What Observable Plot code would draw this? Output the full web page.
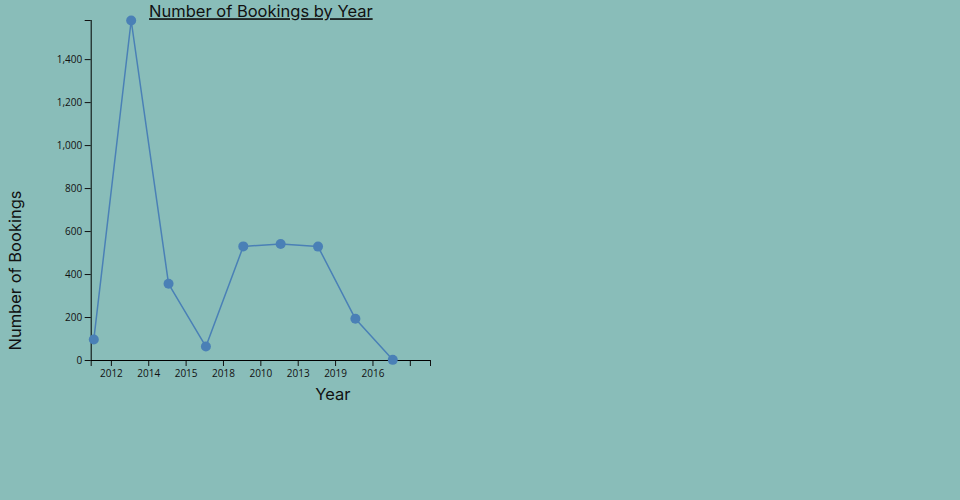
<!DOCTYPE html>
<html>
<head>
<meta charset="utf-8">
<script src="https://cdn.jsdelivr.net/npm/d3@7"></script>
<script src="https://cdn.jsdelivr.net/npm/@observablehq/plot@0.6"></script>
<style>
  html, body { margin: 0; padding: 0; background: #89bdb9; }
</style>
</head>
<body>
<div id="chart"></div>
<script>
// ---- data ----
const tickLabels = ["2012", "2014", "2015", "2018", "2010", "2013", "2019", "2016", ""];
const bookings = [98, 1582, 357, 65, 531, 542, 530, 194, 3];
const yTicks = [0, 200, 400, 600, 800, 1000, 1200, 1400];
const titleText = "Number of Bookings by Year";
const yLabelText = "Number of Bookings";
const xLabelText = "Year";

// ---- build table ----
const data = bookings.map((v, i) => ({ i, v }));
const yMax = d3.max(bookings);
const xDomain = [-0.07, 9.01];
const tickOffset = 0.47;
const xTicks = tickLabels.map((_, k) => k + tickOffset);
const fmt = d3.format(",");

// layout
const W = 960, H = 500, mL = 90.7, mR = 530, mT = 20, mB = 140;
// position of the rotated y-axis title (screen px) expressed in data units
const yTitlePx = { x: 15, y: 270 };
const yTitleX = xDomain[0] + (yTitlePx.x - mL) * (xDomain[1] - xDomain[0]) / (W - mR - mL);
const yTitleY = yMax * (1 - (yTitlePx.y - mT) / (H - mB - mT));

const bg = "#89bdb9";
const lineColor = "#4a80b6";
const labelFont = "Inter, Lato, sans-serif";

const chart = Plot.plot({
  width: W,
  height: H,
  marginLeft: mL,
  marginRight: mR,
  marginTop: mT,
  marginBottom: mB,
  style: { background: bg, fontFamily: "'Open Sans', sans-serif", fontSize: "10px", color: "#111" },
  x: { type: "linear", domain: xDomain, label: null },
  y: { domain: [0, yMax], label: null },
  marks: [
    Plot.axisY({
      ticks: [...yTicks, yMax],
      tickFormat: d => (d === yMax ? "" : fmt(d)),
      tickSize: 6,
      tickPadding: 3,
      fontSize: 10,
      label: null
    }),
    Plot.axisX({
      ticks: [xDomain[0], ...xTicks, xDomain[1]],
      tickFormat: d => { const k = xTicks.indexOf(d); return k >= 0 ? tickLabels[k] : ""; },
      tickSize: 6,
      tickPadding: 3,
      fontSize: 10,
      label: null
    }),
    Plot.ruleX([xDomain[0]], { stroke: "#000", strokeWidth: 1 }),
    Plot.ruleY([0], { stroke: "#000", strokeWidth: 1 }),
    Plot.line(data, { x: "i", y: "v", stroke: lineColor, strokeWidth: 1.5 }),
    Plot.dot(data, { x: "i", y: "v", r: 5, fill: lineColor, stroke: null }),
    Plot.text([titleText], {
      text: d => d, frameAnchor: "top", dy: -15,
      fontSize: 16.5, fontFamily: labelFont, fill: "#111"
    }),
    Plot.text([yLabelText], {
      text: d => d, x: () => yTitleX, y: () => yTitleY, rotate: -90,
      fontSize: 16.5, fontFamily: labelFont, fill: "#111"
    }),
    Plot.text([xLabelText], {
      text: d => d, frameAnchor: "bottom", dx: 72, dy: 39,
      fontSize: 16.5, fontFamily: labelFont, fill: "#111"
    })
  ]
});

d3.select(chart).selectAll("text")
  .filter(function () { return this.textContent === titleText; })
  .style("text-decoration", "underline");

document.getElementById("chart").appendChild(chart);
</script>
</body>
</html>
